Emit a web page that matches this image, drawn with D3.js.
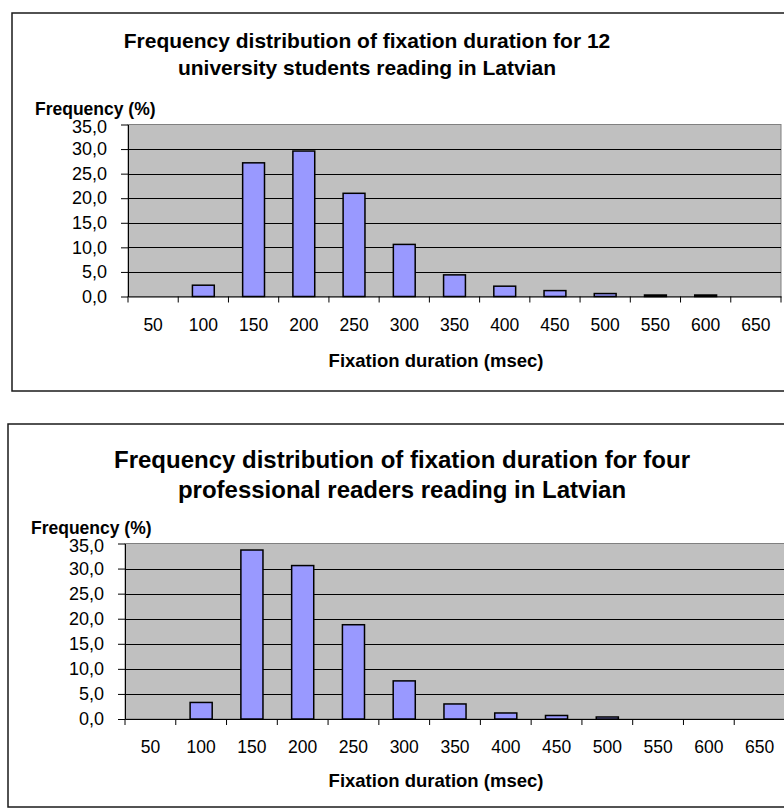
<!DOCTYPE html>
<html>
<head>
<meta charset="utf-8">
<script src="https://cdn.jsdelivr.net/npm/d3@7"></script>
<style>
  html, body { margin: 0; padding: 0; background: #ffffff; }
  svg { display: block; }
  text { font-family: Arial, "Liberation Sans", sans-serif; fill: #000; }
</style>
</head>
<body>
<svg id="chart" width="784" height="809"></svg>
<script>
// ---- data ----
const categories = ["50","100","150","200","250","300","350","400","450","500","550","600","650"];
const studentsFreq = [0, 2.3, 27.2, 29.6, 21.0, 10.6, 4.4, 2.1, 1.2, 0.6, 0.3, 0.3, 0];
const professionalsFreq = [0, 3.3, 33.7, 30.6, 18.8, 7.6, 3.0, 1.2, 0.7, 0.4, 0, 0, 0];
const yTickValues = [0, 5, 10, 15, 20, 25, 30, 35];
const studentsTitle = ["Frequency distribution of fixation duration for 12", "university students reading in Latvian"];
const professionalsTitle = ["Frequency distribution of fixation duration for four", "professional readers reading in Latvian"];
const yAxisTitle = "Frequency (%)";
const xAxisTitle = "Fixation duration (msec)";

const svg = d3.select("#chart");
const fmt = v => d3.format(".1f")(v).replace(".", ",");

function drawChart(cfg) {
  const g = svg.append("g");
  // outer chart border
  g.append("rect")
    .attr("x", cfg.box.x).attr("y", cfg.box.y)
    .attr("width", cfg.box.w).attr("height", cfg.box.h)
    .attr("fill", "#fff").attr("stroke", "#1a1a1a").attr("stroke-width", 1.5);

  const x = d3.scaleBand().domain(categories).range([cfg.plot.x0, cfg.plot.x1]).paddingInner(0.565).paddingOuter(0.2825);
  const xb = d3.scaleBand().domain(categories).range([cfg.plot.x0, cfg.plot.x1]);
  const y = d3.scaleLinear().domain([0, 35]).range([cfg.plot.y0, cfg.plot.y1]);

  // plot area
  g.append("rect")
    .attr("x", cfg.plot.x0).attr("y", y(35))
    .attr("width", cfg.plot.x1 - cfg.plot.x0).attr("height", y(0) - y(35))
    .attr("fill", "#c0c0c0").attr("stroke", "#808080").attr("stroke-width", 1);

  // gridlines
  g.selectAll(".grid").data(yTickValues.filter(v => v > 0 && v < 35)).enter()
    .append("line")
    .attr("x1", cfg.plot.x0).attr("x2", cfg.plot.x1)
    .attr("y1", d => Math.round(y(d)) + 0.5).attr("y2", d => Math.round(y(d)) + 0.5)
    .attr("stroke", "#000").attr("stroke-width", 1);

  // bars
  const data = categories.map((c, i) => ({c, v: cfg.values[i]})).filter(d => d.v > 0);
  g.selectAll(".bar").data(data).enter()
    .append("rect")
    .attr("x", d => x(d.c)).attr("width", x.bandwidth())
    .attr("y", d => y(d.v)).attr("height", d => y(0) - y(d.v))
    .attr("fill", "#9999ff").attr("stroke", "#000").attr("stroke-width", 1.5);

  // y axis
  const ya = g.append("g").attr("transform", `translate(${cfg.plot.x0},0)`)
    .call(d3.axisLeft(y).tickValues(yTickValues).tickFormat(fmt).tickSize(7).tickSizeOuter(0).tickPadding(14));
  ya.select(".domain").attr("stroke", "#000");
  ya.selectAll(".tick line").attr("stroke", "#000");
  ya.selectAll(".tick text").style("font-size", "18px").attr("font-family", "Arial, 'Liberation Sans', sans-serif")
    .attr("dy", d => d === 35 ? "0.45em" : "0.32em");

  // x axis
  const xa = g.append("g").attr("transform", `translate(0,${y(0)})`)
    .call(d3.axisBottom(xb).tickSize(0).tickPadding(22));
  xa.select(".domain").attr("stroke", "#000");
  xa.selectAll(".tick text").style("font-size", "17.5px").attr("font-family", "Arial, 'Liberation Sans', sans-serif");
  // category boundary ticks
  const bounds = categories.map(c => xb(c)).concat([cfg.plot.x1]);
  xa.selectAll(".bound").data(bounds).enter().append("line")
    .attr("x1", d => d).attr("x2", d => d).attr("y1", 0).attr("y2", 6)
    .attr("stroke", "#000");

  // titles
  cfg.title.forEach((t, i) => {
    g.append("text").attr("x", cfg.titleX).attr("y", cfg.titleY[i])
      .attr("text-anchor", "middle").attr("font-weight", "bold")
      .style("font-size", cfg.titleSize + "px").text(t);
  });
  g.append("text").attr("x", cfg.yTitle.x).attr("y", cfg.yTitle.y)
    .attr("font-weight", "bold").style("font-size", "17.5px").text(yAxisTitle);
  g.append("text").attr("x", cfg.xTitle.x).attr("y", cfg.xTitle.y)
    .attr("text-anchor", "middle").attr("font-weight", "bold").style("font-size", "18.5px").text(xAxisTitle);
}

drawChart({
  box: {x: 12, y: 13, w: 800, h: 378},
  plot: {x0: 128, x1: 781, y0: 296.5, y1: 124.5},
  values: studentsFreq,
  title: studentsTitle, titleX: 367, titleY: [48, 75], titleSize: 21,
  yTitle: {x: 35, y: 115},
  xTitle: {x: 436, y: 367}
});

drawChart({
  box: {x: 8, y: 424, w: 800, h: 383},
  plot: {x0: 125, x1: 785, y0: 719, y1: 543.5},
  values: professionalsFreq,
  title: professionalsTitle, titleX: 402, titleY: [468, 498], titleSize: 24,
  yTitle: {x: 31, y: 534},
  xTitle: {x: 436, y: 787}
});
</script>
</body>
</html>
